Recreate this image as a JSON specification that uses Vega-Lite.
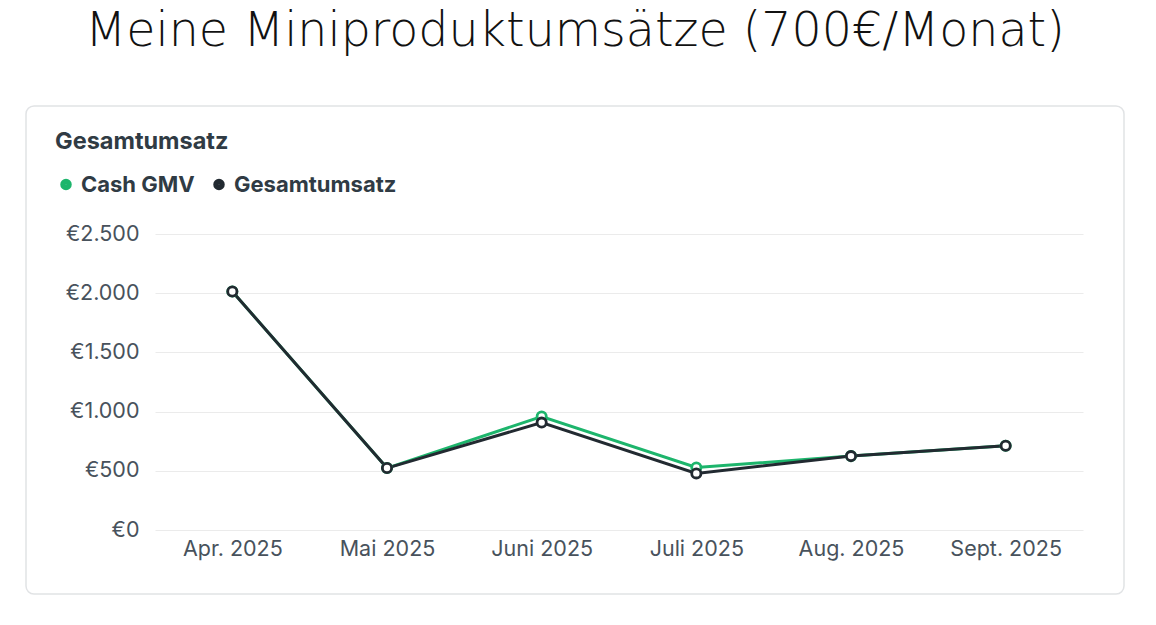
{
  "$schema": "https://vega.github.io/schema/vega-lite/v6.json",
  "width": 1098,
  "height": 488,
  "autosize": {"type": "none"},
  "padding": {"left": 26, "top": 106, "right": 32, "bottom": 31},
  "background": "white",
  "title": {
    "text": "Meine Miniproduktumsätze (700€/Monat)",
    "anchor": "middle",
    "frame": "group",
    "font": "DejaVu Sans",
    "fontSize": 47.5,
    "fontWeight": 200,
    "color": "#111111",
    "offset": 51
  },
  "config": {
    "locale": {"number": {"decimal": ",", "thousands": ".", "grouping": [3], "currency": ["€", ""]}},
    "view": {"stroke": "#e1e3e5", "strokeWidth": 1.5, "cornerRadius": 8},
    "font": "Inter"
  },
  "data": {
    "values": [
      {"month": "Apr. 2025", "series": "Cash GMV", "value": 2015},
      {"month": "Mai 2025", "series": "Cash GMV", "value": 523},
      {"month": "Juni 2025", "series": "Cash GMV", "value": 958},
      {"month": "Juli 2025", "series": "Cash GMV", "value": 528},
      {"month": "Aug. 2025", "series": "Cash GMV", "value": 624},
      {"month": "Sept. 2025", "series": "Cash GMV", "value": 711},
      {"month": "Apr. 2025", "series": "Gesamtumsatz", "value": 2015},
      {"month": "Mai 2025", "series": "Gesamtumsatz", "value": 523},
      {"month": "Juni 2025", "series": "Gesamtumsatz", "value": 907},
      {"month": "Juli 2025", "series": "Gesamtumsatz", "value": 478},
      {"month": "Aug. 2025", "series": "Gesamtumsatz", "value": 624},
      {"month": "Sept. 2025", "series": "Gesamtumsatz", "value": 711}
    ]
  },
  "encoding": {
    "x": {
      "field": "month",
      "type": "ordinal",
      "sort": null,
      "scale": {"type": "point", "padding": 0.5, "range": [129, 1057]},
      "axis": {
        "title": null,
        "labelAngle": 0,
        "domain": false,
        "ticks": false,
        "grid": false,
        "offset": -64,
        "labelPadding": 8,
        "labelFont": "Inter",
        "labelFontSize": 21.5,
        "labelColor": "#48525c"
      }
    },
    "y": {
      "field": "value",
      "type": "quantitative",
      "scale": {"domain": [0, 2500], "range": [424, 128], "nice": false, "zero": true},
      "axis": {
        "title": null,
        "values": [0, 500, 1000, 1500, 2000, 2500],
        "format": "$,.0f",
        "offset": -129,
        "domain": false,
        "ticks": false,
        "labelPadding": 16,
        "labelFont": "Inter",
        "labelFontSize": 21.5,
        "labelColor": "#48525c",
        "grid": true,
        "gridColor": "#ebebeb",
        "gridWidth": 1.2
      }
    },
    "color": {
      "field": "series",
      "type": "nominal",
      "scale": {"domain": ["Cash GMV", "Gesamtumsatz"], "range": ["#1db56c", "#222a31"]},
      "legend": {
        "title": "Gesamtumsatz",
        "orient": "none",
        "legendX": 29,
        "legendY": 24,
        "direction": "horizontal",
        "titleFont": "Inter",
        "titleFontSize": 23.5,
        "titleFontWeight": 700,
        "titleColor": "#303b44",
        "titlePadding": 20,
        "labelFont": "Inter",
        "labelFontSize": 22,
        "labelFontWeight": 700,
        "labelColor": "#303b44",
        "labelOffset": 4,
        "labelLimit": 400,
        "columnPadding": 10,
        "symbolType": "circle",
        "symbolSize": 36,
        "symbolStrokeWidth": 5.5,
        "symbolOpacity": 1
      }
    }
  },
  "layer": [
    {"mark": {"type": "line", "strokeWidth": 3}},
    {"mark": {"type": "point", "filled": false, "fill": "white", "fillOpacity": 1, "opacity": 1, "size": 85, "strokeWidth": 2.8}}
  ]
}
